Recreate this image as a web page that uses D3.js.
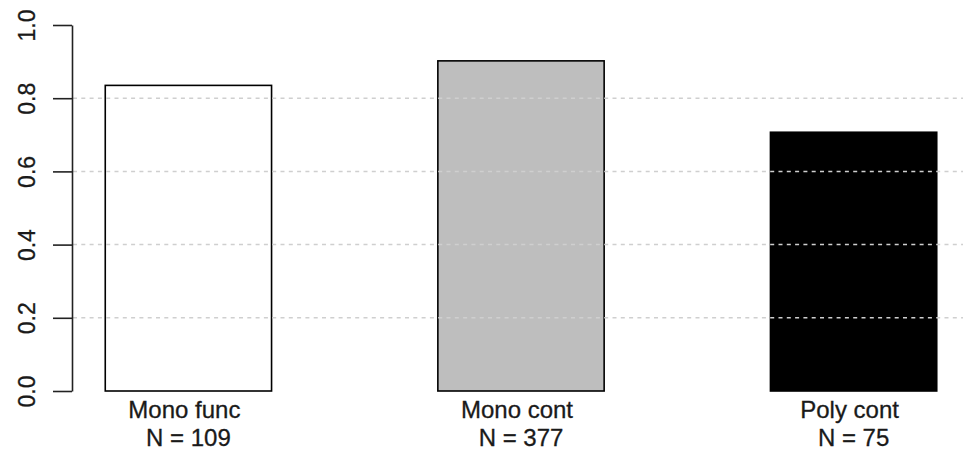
<!DOCTYPE html>
<html>
<head>
<meta charset="utf-8">
<script src="https://cdn.jsdelivr.net/npm/d3@7"></script>
<style>
  html, body { margin: 0; padding: 0; background: #fff; }
  svg { display: block; font-family: "Liberation Sans", Arial, sans-serif; }
</style>
</head>
<body>
<svg id="chart" width="963" height="453"></svg>
<script>
// Proportion per group, with group sizes shown under each bar
const groups = ["Mono func", "Mono cont", "Poly cont"];
const counts = [109, 377, 75];
const proportions = [0.835, 0.902, 0.707];
const fills = ["#ffffff", "#bebebe", "#000000"];
const yTicks = [0, 0.2, 0.4, 0.6, 0.8, 1.0];
const gridTicks = [0.2, 0.4, 0.6, 0.8];

const svg = d3.select("#chart");
const W = 963;

const x = d3.scaleBand()
  .domain(groups)
  .range([72, 970])
  .paddingInner(0.5)
  .paddingOuter(0.1);

const y = d3.scaleLinear().domain([0, 1]).range([391, 25]);

const data = groups.map((g, i) => ({ g, n: counts[i], v: proportions[i], fill: fills[i] }));

// bars
svg.append("g")
  .selectAll("rect")
  .data(data)
  .join("rect")
  .attr("x", d => x(d.g))
  .attr("y", d => y(d.v))
  .attr("width", x.bandwidth())
  .attr("height", d => y(0) - y(d.v))
  .attr("fill", d => d.fill)
  .attr("stroke", "#000")
  .attr("stroke-width", 1.6);

// dotted reference lines drawn over the bars
svg.append("g")
  .selectAll("line")
  .data(gridTicks)
  .join("line")
  .attr("x1", 73)
  .attr("x2", W)
  .attr("y1", d => y(d))
  .attr("y2", d => y(d))
  .attr("stroke", "#cfcfcf")
  .attr("stroke-width", 1.5)
  .attr("stroke-dasharray", "4,4.3");

// y axis, labels rotated
const yAxis = d3.axisLeft(y)
  .tickValues(yTicks)
  .tickFormat(d3.format(".1f"))
  .tickSize(19)
  .tickSizeOuter(0)
  .tickPadding(0);

const ag = svg.append("g")
  .attr("transform", "translate(72,0)")
  .call(yAxis);
ag.select(".domain").attr("stroke", "#222").attr("stroke-width", 1.6);
ag.selectAll(".tick line").attr("stroke", "#222").attr("stroke-width", 1.6);
ag.selectAll(".tick text")
  .attr("x", null)
  .attr("dy", null)
  .attr("transform", "translate(-37,0) rotate(-90)")
  .attr("text-anchor", "middle")
  .attr("fill", "#1a1a1a")
  .attr("stroke", "#1a1a1a")
  .attr("stroke-width", 0.3)
  .style("font-size", "23px")
  .style("font-family", "\"Liberation Sans\", Arial, sans-serif");

// category labels, two lines each
const lab = svg.append("g")
  .selectAll("text")
  .data(data)
  .join("text")
  .attr("text-anchor", "middle")
  .attr("fill", "#1a1a1a")
  .attr("stroke", "#1a1a1a")
  .attr("stroke-width", 0.3)
  .style("font-size", "24px");
lab.append("tspan")
  .attr("x", d => x(d.g) + x.bandwidth() / 2 - 4)
  .attr("y", 418)
  .text(d => d.g);
lab.append("tspan")
  .attr("x", d => x(d.g) + x.bandwidth() / 2)
  .attr("y", 446)
  .text(d => "N = " + d.n);
</script>
</body>
</html>
